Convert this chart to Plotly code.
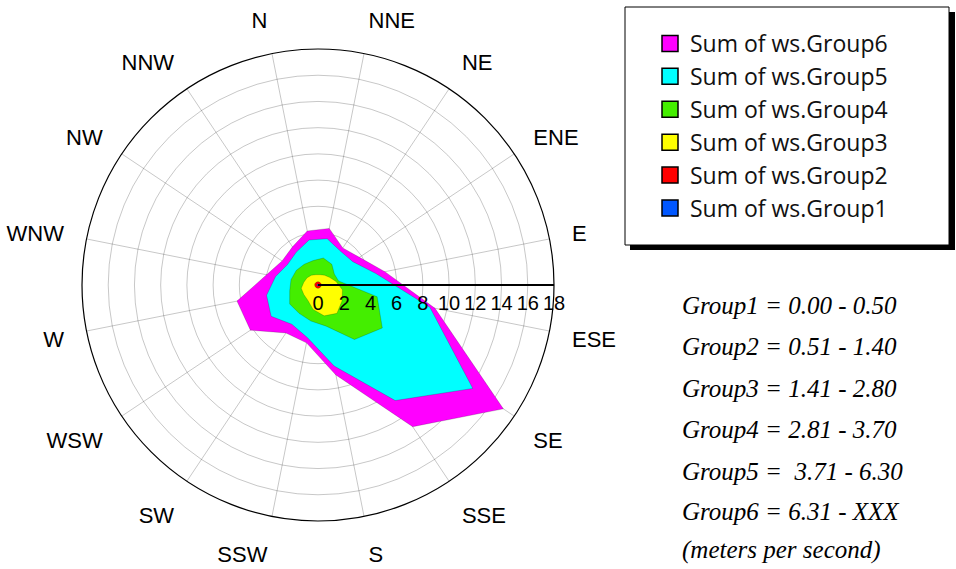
import numpy as np
import plotly.graph_objects as go

directions = ["N", "NNE", "NE", "ENE", "E", "ESE", "SE", "SSE",
              "S", "SSW", "SW", "WSW", "W", "WNW", "NW", "NNW"]

# per-group values (stacked)
group1 = [0.08, 0.08, 0.08, 0.08, 0.08, 0.08, 0.08, 0.08, 0.08, 0.08, 0.08, 0.08, 0.08, 0.08, 0.08, 0.08]
group2 = [0.17, 0.17, 0.17, 0.17, 0.17, 0.17, 0.17, 0.17, 0.17, 0.17, 0.17, 0.17, 0.17, 0.17, 0.17, 0.17]
group3 = [0.55, 0.55, 0.65, 0.8, 1.15, 1.65, 1.95, 2.35, 2.15, 1.65, 1.15, 1.05, 1.05, 0.85, 0.75, 0.65]
group4 = [1.1, 1.3, 1.0, 0.45, 0.2, 2.7, 3.7, 2.4, 0.8, 0.9, 1.2, 1.3, 0.9, 1.0, 1.0, 1.0]
group5 = [1.6, 1.5, 1.2, 1.7, 2.9, 4.1, 8.3, 5.6, 3.1, 1.3, 1.0, 1.7, 1.8, 1.2, 0.8, 1.1]
group6 = [0.7, 0.8, 0.3, 0.6, 0.7, 0.4, 2.8, 2.4, 0.7, 0.4, 0.8, 1.9, 2.3, 0.7, 0.5, 0.5]

series_names = ["Sum of ws.Group1", "Sum of ws.Group2", "Sum of ws.Group3",
                "Sum of ws.Group4", "Sum of ws.Group5", "Sum of ws.Group6"]
colors = ["#0057FF", "#FF0000", "#FFFF00", "#44EE00", "#00FFFF", "#FF00FF"]

radial_ticks = [0, 2, 4, 6, 8, 10, 12, 14, 16, 18]

range_notes = ["Group1 = 0.00 - 0.50",
               "Group2 = 0.51 - 1.40",
               "Group3 = 1.41 - 2.80",
               "Group4 = 2.81 - 3.70",
               "Group5 = \u00a03.71 - 6.30",
               "Group6 = 6.31 - XXX",
               "(meters per second)"]

groups = np.array([group1, group2, group3, group4, group5, group6])
cum = np.cumsum(groups, axis=0)

fig = go.Figure()

# stacked areas: outermost first
for k in range(5, -1, -1):
    r = list(cum[k]) + [cum[k][0]]
    th = directions + [directions[0]]
    fig.add_trace(go.Scatterpolar(
        r=r, theta=th, mode="lines", fill="toself",
        fillcolor=colors[k],
        line=dict(color="rgba(0,0,0,0.3)", width=0.6),
        showlegend=False, hoverinfo="skip"))

# legend entries (Group6 first)
for k in range(5, -1, -1):
    fig.add_trace(go.Scatterpolar(
        r=[None], theta=[directions[0]], mode="markers",
        name=series_names[k],
        marker=dict(symbol="square", size=16, color=colors[k],
                    line=dict(color="black", width=1.5))))

W, H = 956, 569
cx, cy, rad = 318, 285, 236

shapes = [
    dict(type="rect", xref="paper", yref="paper", layer="below",
         x0=630 / W, x1=955 / W, y0=1 - 250 / H, y1=1 - 12 / H,
         fillcolor="black", line=dict(width=0)),
    dict(type="rect", xref="paper", yref="paper", layer="below",
         x0=625 / W, x1=949 / W, y0=1 - 245 / H, y1=1 - 7 / H,
         fillcolor="white", line=dict(color="black", width=1)),
]

annotations = []
note_y = [305, 346.5, 388, 429.5, 471, 511.5, 550]
for txt, py in zip(range_notes, note_y):
    annotations.append(dict(
        text="<i>" + txt + "</i>", xref="paper", yref="paper",
        x=680 / W, y=1 - py / H, xanchor="left", yanchor="middle",
        showarrow=False,
        font=dict(family="Liberation Serif, Times New Roman, serif", size=25, color="black")))

fig.update_layout(
    width=W, height=H,
    margin=dict(l=0, r=0, t=0, b=0),
    paper_bgcolor="white",
    showlegend=True,
    legend=dict(x=650 / W, y=1 - 22 / H, xanchor="left", yanchor="top",
                bgcolor="rgba(0,0,0,0)", borderwidth=0,
                traceorder="normal",
                font=dict(family="Open Sans, Liberation Sans, Arial, sans-serif", size=23, color="#111111")),
    polar=dict(
        domain=dict(x=[(cx - rad) / W, (cx + rad) / W],
                    y=[1 - (cy + rad) / H, 1 - (cy - rad) / H]),
        bgcolor="white",
        angularaxis=dict(
            type="category", categoryarray=directions,
            direction="clockwise", rotation=101.25,
            showline=True, linecolor="black", linewidth=1.2,
            showgrid=True, gridcolor="rgba(0,0,0,0.22)", gridwidth=1,
            ticks="outside", ticklen=18, tickcolor="rgba(0,0,0,0)",
            tickfont=dict(family="Liberation Sans, Arial, sans-serif", size=22, color="black"),
            layer="above traces"),
        radialaxis=dict(
            range=[0, 18], tickvals=radial_ticks,
            ticktext=[str(v) for v in radial_ticks],
            angle=0, side="clockwise",
            showline=True, linecolor="black", linewidth=2.2,
            showgrid=True, gridcolor="rgba(0,0,0,0.22)", gridwidth=1,
            ticks="",
            tickfont=dict(family="Liberation Sans Narrow, Arial Narrow, Liberation Sans, sans-serif",
                          size=20, color="black"),
            layer="above traces"),
    ),
    shapes=shapes,
    annotations=annotations,
)

fig.write_html("out.html", config={"displayModeBar": False},
               post_script="document.body.style.margin='0px';document.body.style.overflow='hidden';")
